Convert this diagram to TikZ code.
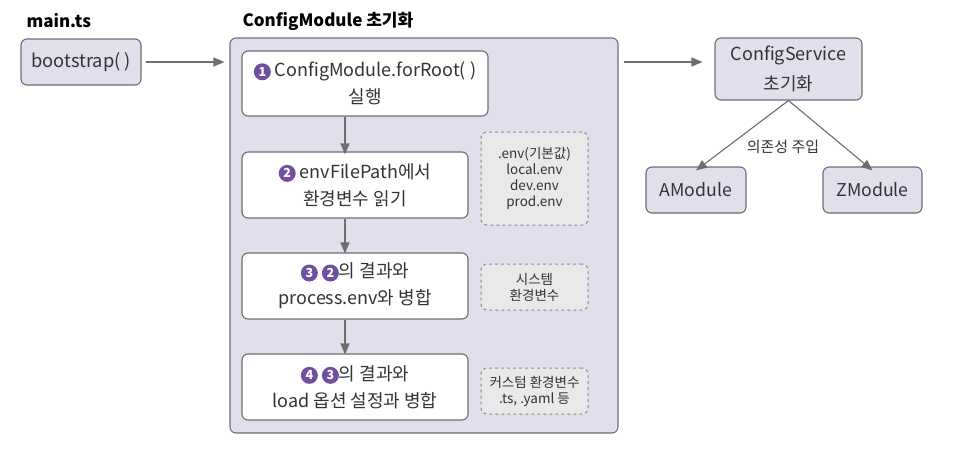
\documentclass[tikz,border=0pt]{standalone}
\usepackage{fontspec}
\setmainfont{Noto Sans CJK KR}
\usetikzlibrary{arrows.meta, calc, positioning}

\definecolor{lavender}{HTML}{E2DEEC}
\definecolor{edgegray}{HTML}{6E6E6E}
\definecolor{notegray}{HTML}{E9E9E9}
\definecolor{numpurple}{HTML}{6F4F9E}
\definecolor{inkgray}{HTML}{333333}

\newcommand{\stepno}[1]{\tikz[baseline=-0.5ex]\node[circle,fill=numpurple,text=white,inner sep=0pt,minimum size=17pt,font=\fontsize{12.5}{12}\selectfont\bfseries] {#1};}

\tikzset{
  lavbox/.style={draw=edgegray,fill=lavender,rounded corners=6pt,line width=1.1pt,align=center,text=inkgray},
  flowbox/.style={draw=edgegray,fill=white,rounded corners=6pt,line width=1.1pt,align=center,text=inkgray,
    font=\fontsize{18}{27}\selectfont},
  notebox/.style={draw=edgegray!80,fill=notegray,dashed,rounded corners=6pt,line width=1pt,align=center,text=inkgray,
    font=\fontsize{13.5}{16}\selectfont,minimum width=107pt},
  flowarrow/.style={-{Triangle[length=11pt,width=9pt]},draw=edgegray,fill=edgegray,line width=1.1pt},
  titletext/.style={font=\fontsize{17}{20}\selectfont\bfseries,text=black,anchor=west}
}

\begin{document}
\begin{tikzpicture}[x=1pt,y=-1pt]
\useasboundingbox (0,0) rectangle (956,469);

    % titles
    \node[titletext] (maintitle) at (23,21) {main.ts};
    \node[titletext] (cfgtitle) at (239,21) {ConfigModule 초기화};

    % left
    \node[lavbox,minimum width=120pt,minimum height=46pt,font=\fontsize{18.3}{20}\selectfont] (boot) at (81,62) {bootstrap( )};

    % container
    \node[lavbox,minimum width=388pt,minimum height=395pt] (cfgmod) at (424,235.5) {};

    \node[flowbox,minimum width=246pt,minimum height=65pt] (forroot) at (365,83.5)
      {\stepno{1} ConfigModule.forRoot( )\\실행};
    \node[flowbox,minimum width=226pt,minimum height=66pt] (readenv) at (355,185)
      {\stepno{2} envFilePath에서\\환경변수 읽기};
    \node[flowbox,minimum width=226pt,minimum height=66pt] (mergeproc) at (355,286)
      {\stepno{3} \stepno{2}의 결과와\\process.env와 병합};
    \node[flowbox,minimum width=226pt,minimum height=66pt] (mergeload) at (355,387)
      {\stepno{4} \stepno{3}의 결과와\\load 옵션 설정과 병합};

    \node[notebox,minimum height=93pt] (envfiles) at (534.5,178.5)
      {.env(기본값)\\local.env\\dev.env\\prod.env};
    \node[notebox,minimum height=46pt] (sysenv) at (534.5,287)
      {시스템\\환경변수};
    \node[notebox,minimum height=46pt] (customenv) at (534.5,391)
      {커스텀 환경변수\\.ts, .yaml 등};

    \coordinate (flowx) at (345,0);
    \draw[flowarrow] (forroot.south -| flowx) -- ([yshift=-3pt]readenv.north -| flowx);
    \draw[flowarrow] (readenv.south -| flowx) -- ([yshift=-1pt]mergeproc.north -| flowx);
    \draw[flowarrow] (mergeproc.south -| flowx) -- ([yshift=-1pt]mergeload.north -| flowx);

    % right
    \node[lavbox,minimum width=147pt,minimum height=62pt,font=\fontsize{18}{30}\selectfont] (cfgsvc) at (788.5,69)
      {ConfigService\\초기화};
    \node[lavbox,minimum width=100pt,minimum height=46pt,font=\fontsize{17.7}{20}\selectfont] (amod) at (696,190) {AModule};
    \node[lavbox,minimum width=99pt,minimum height=46pt,font=\fontsize{17.7}{20}\selectfont] (zmod) at (872.5,190) {ZModule};

    \draw[flowarrow,shorten <=4pt,shorten >=5pt] (boot.east) -- (boot.east -| cfgmod.west);
    \draw[flowarrow,shorten <=5pt,shorten >=12pt] (cfgmod.east |- boot.east) -- (cfgsvc.west |- boot.east);
    \draw[flowarrow] (cfgsvc.south) -- ([yshift=-4pt]amod.north);
    \draw[flowarrow] (cfgsvc.south) -- ([yshift=-4pt]zmod.north);
    \node[font=\fontsize{15}{15}\selectfont,text=inkgray] (inject) at (783,147) {의존성 주입};
\end{tikzpicture}
\end{document}
